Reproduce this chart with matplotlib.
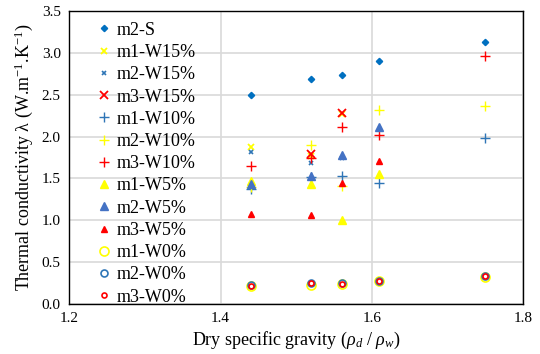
import numpy as np
import matplotlib
matplotlib.use("Agg")
import matplotlib.pyplot as plt
from matplotlib.ticker import FormatStrFormatter

plt.rcParams['font.family'] = ['Liberation Serif', 'DejaVu Serif']
plt.rcParams['mathtext.fontset'] = 'custom'
plt.rcParams['mathtext.rm'] = 'Liberation Serif'
plt.rcParams['mathtext.it'] = 'Liberation Serif:italic'

# gravedad especifica seca
gs = [1.44, 1.52, 1.56, 1.61, 1.75]

m2_S = [2.50, 2.69, 2.74, 2.90, 3.13]
m1_W15 = [1.87, 1.77, 2.27]
m2_W15 = [1.82, 1.68, 1.74]
m3_W15 = [1.79, 2.28]
m1_W10 = [1.37, 1.52, 1.53, 1.44, 1.98]
m2_W10 = [1.40, 1.90, 1.41, 2.32, 2.36]
m3_W10 = [1.65, 1.75, 2.11, 2.02, 2.96]
m1_W5 = [1.47, 1.43, 1.01, 1.55]
m2_W5 = [1.43, 1.53, 1.78, 2.12]
m3_W5 = [1.07, 1.06, 1.44, 1.71]
m1_W0 = [0.22, 0.23, 0.24, 0.27, 0.32]
m2_W0 = [0.23, 0.25, 0.25, 0.28, 0.33]
m3_W0 = [0.22, 0.25, 0.24, 0.27, 0.33]

fig = plt.figure(figsize=(5.4, 3.54), dpi=100)
ax = fig.add_axes([0.128, 0.141, 0.841, 0.828])

ax.plot(gs, m2_S, 'D', color='#0070C0', ms=3.2, ls='none', label='m2-S')
ax.plot(gs[:3], m1_W15, 'x', color='#FFFF00', ms=4.5, mew=1.3, ls='none', label='m1-W15%')
ax.plot(gs[:3], m2_W15, 'x', color='#2E75B6', ms=3.5, mew=1.2, ls='none', label='m2-W15%')
ax.plot(gs[1:3], m3_W15, 'x', color='#FF0000', ms=5.5, mew=1.3, ls='none', label='m3-W15%')
ax.plot(gs, m1_W10, '+', color='#2E75B6', ms=6.5, mew=1.0, ls='none', label='m1-W10%')
ax.plot(gs, m2_W10, '+', color='#FFFF00', ms=6.5, mew=1.0, ls='none', label='m2-W10%')
ax.plot(gs, m3_W10, '+', color='#FF0000', ms=6.5, mew=1.0, ls='none', label='m3-W10%')
ax.plot(gs[:4], m1_W5, '^', color='#FFFF00', ms=5.5, ls='none', label='m1-W5%')
ax.plot(gs[:4], m2_W5, '^', color='#4472C4', ms=5.5, ls='none', label='m2-W5%')
ax.plot(gs[:4], m3_W5, '^', color='#FF0000', ms=3.8, ls='none', label='m3-W5%')
ax.plot(gs, m1_W0, 'o', mfc='none', mec='#FFFF00', ms=6.5, mew=1.2, ls='none', label='m1-W0%')
ax.plot(gs, m2_W0, 'o', mfc='none', mec='#2E75B6', ms=5, mew=1.2, ls='none', label='m2-W0%')
ax.plot(gs, m3_W0, 'o', mfc='none', mec='#FF0000', ms=3.6, mew=1.2, ls='none', label='m3-W0%')

ax.set_xlim(1.2, 1.8)
ax.set_ylim(0, 3.5)
ax.set_xticks([1.2, 1.4, 1.6, 1.8])
ax.set_yticks(np.arange(0, 3.51, 0.5))
ax.xaxis.set_major_formatter(FormatStrFormatter('%.1f'))
ax.yaxis.set_major_formatter(FormatStrFormatter('%.1f'))
ax.tick_params(length=0, labelsize=11, pad=6)
ax.grid(True, color='#D9D9D9', lw=1.2)
ax.set_axisbelow(True)
for s in ax.spines.values():
    s.set_color('black')
    s.set_linewidth(1.0)

ax.set_xlabel(r'Dry specific gravity ($\rho_d$ / $\rho_w$)', fontsize=13, labelpad=3)
ax.set_ylabel(r'Thermal conductivity λ (W.m$^{-1}$.K$^{-1}$)', fontsize=13, labelpad=5)

ax.legend(loc='upper left', frameon=False, fontsize=13, handlelength=0.8,
          handletextpad=0.3, labelspacing=0.29, borderaxespad=0.2,
          bbox_to_anchor=(0.038, 1.0))

fig.savefig('out.png', dpi=100)
